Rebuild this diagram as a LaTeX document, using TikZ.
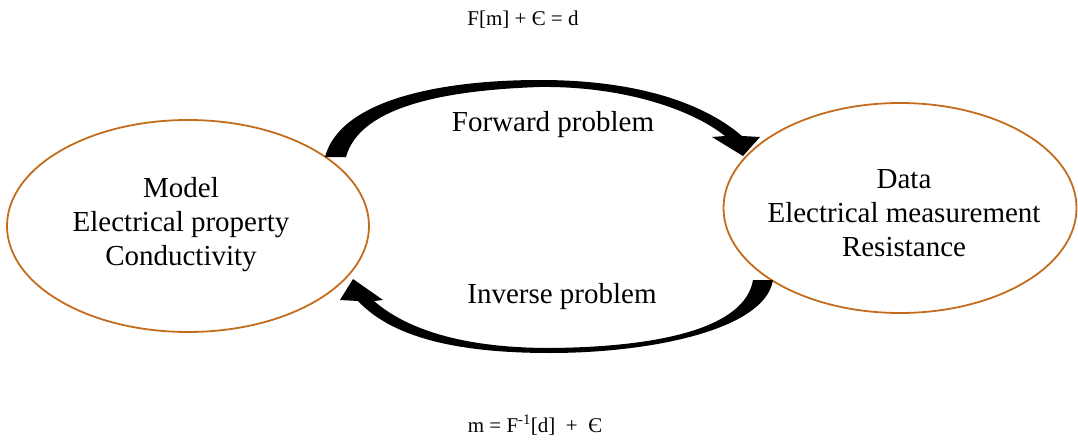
\documentclass[tikz,border=0pt]{standalone}
\usepackage{fontspec}
\setmainfont{Liberation Serif}
\usetikzlibrary{shapes.geometric}
\definecolor{ringc}{RGB}{196,108,30}
\tikzset{
  ring/.style={ellipse, draw=ringc, line width=1.8pt, inner sep=0pt},
  lbl/.style={inner sep=0pt, align=center, font=\fontsize{29}{34}\selectfont},
  eqn/.style={inner sep=0pt, font=\fontsize{21}{24}\selectfont},
  blockarrow/.style={fill=black}
}
\begin{document}
\begin{tikzpicture}[x=1pt,y=-1pt]
\useasboundingbox (0,0) rectangle (1078,441);
\node[ring, minimum width=362pt, minimum height=212pt] (model) at (188,226) {};
\node[lbl] (modeltext) at (181,225) {Model\\Electrical property\\Conductivity};
\node[ring, minimum width=353pt, minimum height=210pt] (data) at (900,208) {};
\node[lbl] (datatext) at (904,213) {Data\\Electrical measurement\\Resistance};
\node[eqn] (top) at (523,20) {F[m] + Є = d};
\node[eqn] (bot) at (535,425) {m = F\textsuperscript{-1}[d]~~+~~Є};
\node[lbl] (fwd) at (553,125) {Forward problem};
\node[lbl] (inv) at (562,297) {Inverse problem};
% forward arrow
\fill[blockarrow] (325,157) .. controls (340,100) and (440,80) .. (540,80)
  .. controls (630,80) and (700,100) .. (742,136) -- (760,137) -- (743,156)
  -- (712,137) -- (725,136) .. controls (690,108) and (620,86) .. (540,87)
  .. controls (450,90) and (360,105) .. (346,157) -- cycle;
% inverse arrow
\fill[blockarrow] (773,280) .. controls (765,330) and (650,353) .. (550,353)
  .. controls (450,353) and (390,335) .. (358,301) -- (340,300) -- (353,279)
  -- (383,300) -- (374,301) .. controls (405,328) and (460,348) .. (550,348)
  .. controls (660,347) and (745,328) .. (753,280) -- cycle;
\end{tikzpicture}
\end{document}
